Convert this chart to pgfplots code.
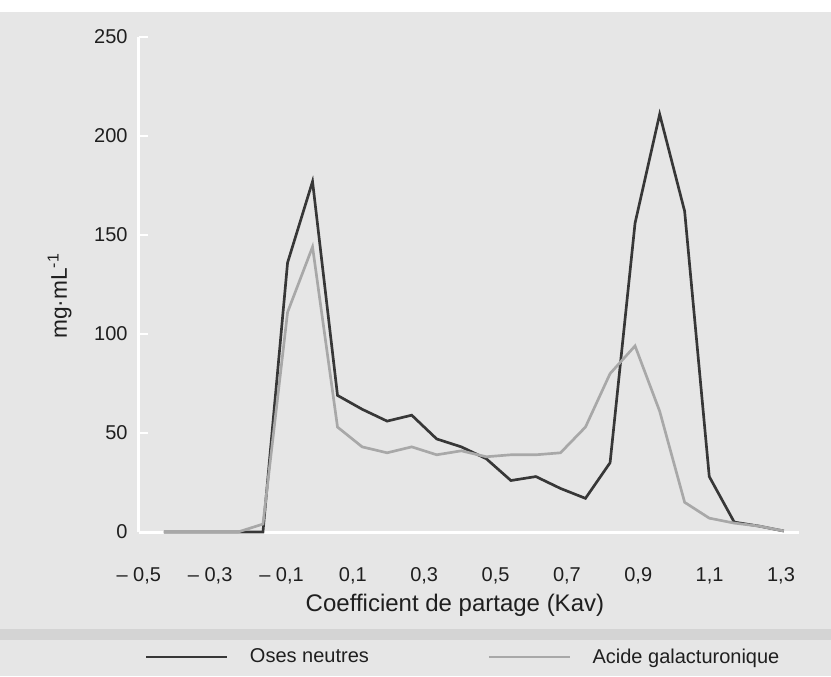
\documentclass[border=0pt]{standalone}
\usepackage{fontspec}
\setmainfont{Liberation Sans}
\usepackage{pgfplots}
\pgfplotsset{compat=1.18}
\definecolor{bg}{RGB}{230,230,230}
\definecolor{band}{RGB}{212,212,212}
\definecolor{darkline}{RGB}{55,55,55}
\definecolor{lightline}{RGB}{168,168,168}
\begin{document}
\begin{tikzpicture}[x=0.75pt,y=0.75pt]
\path[use as bounding box] (0,0) rectangle (831,676);
\fill[white] (0,0) rectangle (831,676);
\fill[bg] (0,0) rectangle (831,664);
\fill[band] (0,36) rectangle (831,47);
\begin{axis}[
  at={(104.1pt,108pt)}, anchor=south west,
  scale only axis, width=495pt, height=371.25pt,
  xmin=-0.5, xmax=1.35, ymin=0, ymax=250,
  clip=false,
  axis x line=bottom, axis y line=left,
  axis line style={white, line width=2.25pt, -},
  xtick={-0.5,-0.3,-0.1,0.1,0.3,0.5,0.7,0.9,1.1,1.3},
  xticklabels={{– 0,5},{– 0,3},{– 0,1},{0,1},{0,3},{0,5},{0,7},{0,9},{1,1},{1,3}},
  minor xtick={-0.430,-0.361,-0.291,-0.222,-0.152,-0.083,-0.013,0.057,0.126,0.196,0.265,0.335,0.404,0.474,0.543,0.613,0.682,0.752,0.821,0.891,0.960,1.030,1.099,1.169,1.238,1.308},
  xtick style={draw=none},
  minor x tick style={white, line width=1.5pt},
  xtick align=outside,
  minor tick length=4.5pt,
  ytick={0,50,100,150,200,250},
  ytick align=inside,
  major tick length=7pt,
  ytick style={white, line width=1.5pt},
  /pgf/number format/assume math mode=true,
  ticklabel style={font=\fontsize{15}{18}\selectfont, text=black!88},
  yticklabel style={inner sep=0pt, xshift=-8.25pt},
  xticklabel style={inner sep=0pt, anchor=north, yshift=-19.5pt},
  xlabel={Coefficient de partage (Kav)},
  xlabel style={at={(axis description cs:0.479,-0.1475)}, anchor=center, font=\fontsize{18}{22}\selectfont, text=black!88},
  ylabel={mg·mL\textsuperscript{-1}},
  ylabel style={at={(axis description cs:-0.12,0.477)}, anchor=center, font=\fontsize{17}{20}\selectfont, text=black!88},
  legend columns=2,
  legend style={at={(axis description cs:0.492,-0.2525)}, anchor=center, draw=none, fill=none,
    font=\fontsize{15}{18}\selectfont, text=black!88,
    /tikz/every odd column/.append style={column sep=14pt},
    /tikz/every even column/.append style={column sep=87pt}},
  legend image code/.code={\draw[#1] (0pt,0pt) -- (60.75pt,0pt);},
]
\addplot[darkline, line width=2pt] coordinates {
(-0.430,0) (-0.361,0) (-0.291,0) (-0.222,0) (-0.152,0) (-0.083,136) (-0.013,177)
(0.057,69) (0.126,62) (0.196,56) (0.265,59) (0.335,47) (0.404,43) (0.474,37)
(0.543,26) (0.613,28) (0.682,22) (0.752,17) (0.821,35) (0.891,156) (0.960,211)
(1.030,162) (1.099,28) (1.169,5) (1.238,3) (1.308,0.5)
};
\addlegendentry{Oses neutres}
\addplot[lightline, line width=2pt] coordinates {
(-0.430,0) (-0.361,0) (-0.291,0) (-0.222,0) (-0.152,4) (-0.083,111) (-0.013,144)
(0.057,53) (0.126,43) (0.196,40) (0.265,43) (0.335,39) (0.404,41) (0.474,38)
(0.543,39) (0.613,39) (0.682,40) (0.752,53) (0.821,80) (0.891,94) (0.960,61)
(1.030,15) (1.099,7) (1.169,4.5) (1.238,3) (1.308,0.5)
};
\addlegendentry{Acide galacturonique}
\end{axis}
\end{tikzpicture}
\end{document}
